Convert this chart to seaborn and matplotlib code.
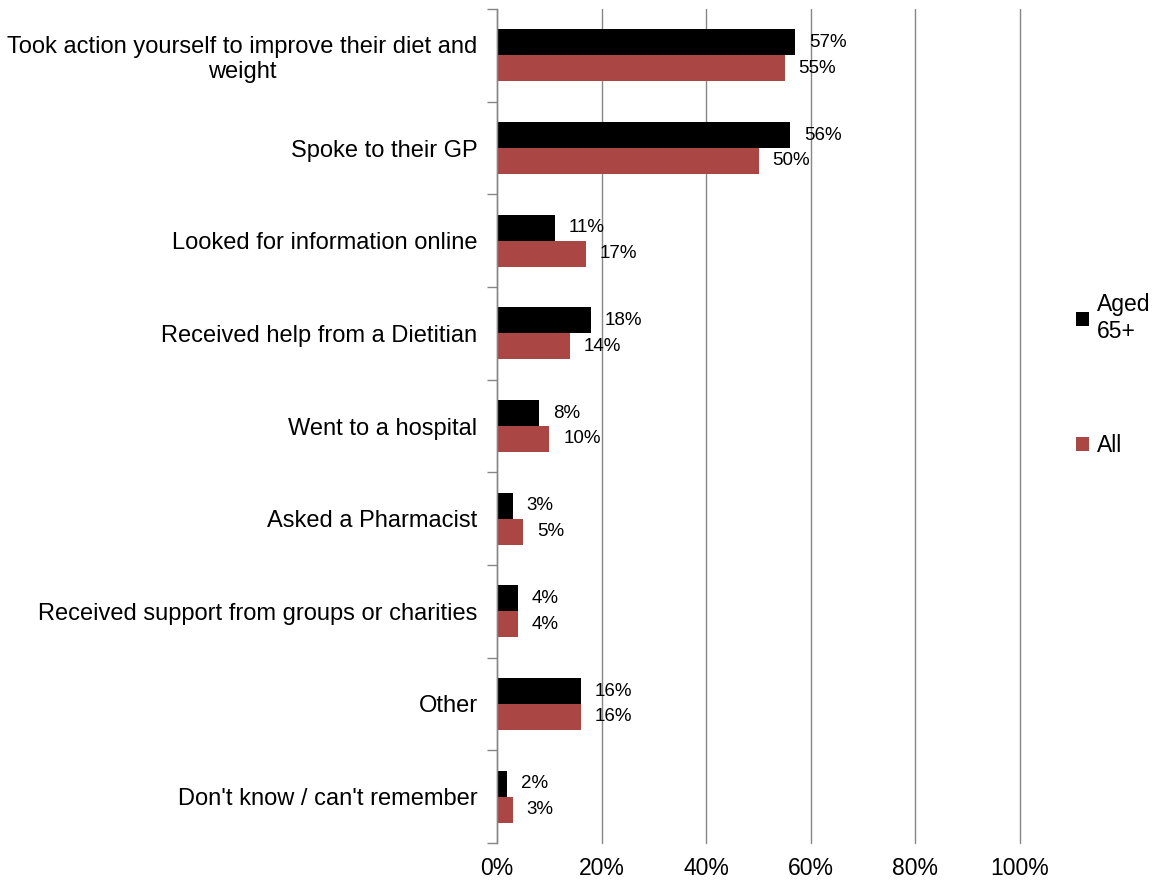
import matplotlib
matplotlib.use("Agg")
import matplotlib.pyplot as plt
import pandas as pd
import seaborn as sns

CATEGORIES = [
    "Took action yourself to improve their diet and\nweight",
    "Spoke to their GP",
    "Looked for information online",
    "Received help from a Dietitian",
    "Went to a hospital",
    "Asked a Pharmacist",
    "Received support from groups or charities",
    "Other",
    "Don't know / can't remember",
]
AGED_65 = [57, 56, 11, 18, 8, 3, 4, 16, 2]
ALL = [55, 50, 17, 14, 10, 5, 4, 16, 3]
SERIES = ["Aged\n65+", "All"]
COLORS = ["#000000", "#AA4643"]
X_TICKS = [0, 20, 40, 60, 80, 100]

sns.set_theme(style="white")
plt.rcParams["font.family"] = ["Liberation Sans", "DejaVu Sans"]
plt.rcParams["text.color"] = "#000000"
plt.rcParams["xtick.color"] = "#000000"
plt.rcParams["ytick.color"] = "#000000"

df = pd.DataFrame({
    "category": CATEGORIES * 2,
    "value": AGED_65 + ALL,
    "series": [SERIES[0]] * len(CATEGORIES) + [SERIES[1]] * len(CATEGORIES),
})

fig = plt.figure(figsize=(11.57, 8.83), dpi=100)
ax = fig.add_axes([497 / 1157, 1 - 843 / 883, (1020 - 497) / 1157, (843 - 9) / 883])

sns.barplot(data=df, y="category", x="value", hue="series", orient="h",
            order=CATEGORIES, hue_order=SERIES, palette=COLORS,
            width=0.56, saturation=1, linewidth=0, ax=ax, legend=True)

for container in ax.containers:
    ax.bar_label(container, labels=[f"{v:.0f}%" for v in container.datavalues],
                 padding=10, fontsize=13.5, color="#000000")

ax.set_xlim(0, 100)
ax.set_ylim(len(CATEGORIES) - 0.5, -0.5)
ax.set_xticks(X_TICKS)
ax.set_xticklabels([f"{t}%" for t in X_TICKS], fontsize=16.5)
ax.set_yticks(range(len(CATEGORIES)))
ax.set_yticklabels(CATEGORIES, fontsize=17, multialignment="center")
ax.set_yticks([i - 0.5 for i in range(len(CATEGORIES) + 1)], minor=True)
ax.tick_params(axis="y", which="major", length=0, pad=14)
ax.tick_params(axis="y", which="minor", length=7, width=1, color="#868686", left=True)
ax.tick_params(axis="x", length=0, pad=10)
ax.set_xlabel("")
ax.set_ylabel("")

ax.grid(axis="x", color="#868686", linewidth=1)
for line in ax.get_xgridlines():
    line.set_clip_on(False)
ax.set_axisbelow(True)
for side in ["top", "right", "bottom"]:
    ax.spines[side].set_visible(False)
ax.spines["left"].set_color("#868686")
ax.spines["left"].set_linewidth(1)

handles, labels = ax.get_legend_handles_labels()
ax.legend(handles, labels, loc="center left", bbox_to_anchor=(1067 / 1157, 0.575),
          bbox_transform=fig.transFigure, frameon=False, fontsize=16.5,
          handlelength=0.55, handleheight=0.55, handletextpad=0.35,
          labelspacing=4.0, borderaxespad=0)

fig.savefig("out.png", dpi=100)
